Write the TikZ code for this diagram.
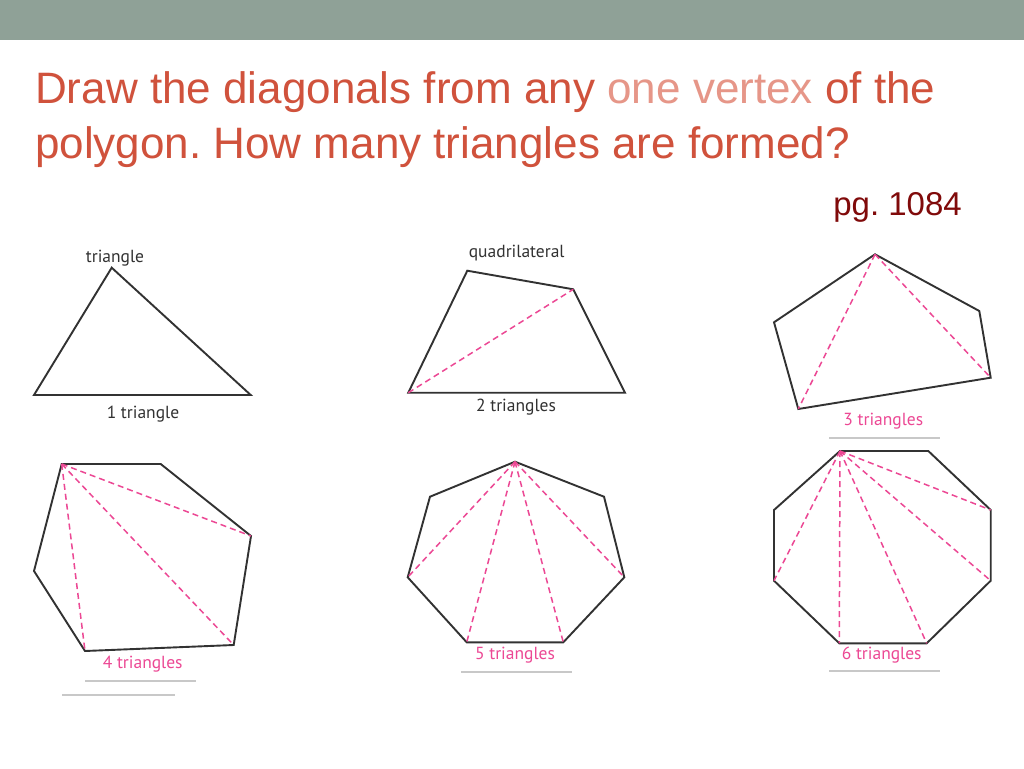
\documentclass[tikz,border=0pt]{standalone}
\usepackage{fontspec}
\setmainfont{Liberation Sans}
\newfontfamily\labelfont{PT Sans}
\frenchspacing
\definecolor{barcol}{RGB}{143,161,151}
\definecolor{titlecol}{RGB}{208,82,60}
\definecolor{lightcol}{RGB}{230,150,136}
\definecolor{pgcol}{RGB}{128,10,10}
\definecolor{pinkcol}{RGB}{236,72,148}
\definecolor{edgecol}{RGB}{50,50,50}
\definecolor{rulecol}{RGB}{200,200,200}
\tikzset{
  poly/.style={draw=edgecol, line width=1.9pt, line join=miter},
  diag/.style={draw=pinkcol, line width=1.5pt, dash pattern=on 6pt off 4pt},
  lbl/.style={font=\labelfont\fontsize{17.5}{17.5}\selectfont, text=edgecol, inner sep=0pt},
  plbl/.style={font=\labelfont\fontsize{17.5}{17.5}\selectfont, text=pinkcol, inner sep=0pt},
  rulel/.style={draw=rulecol, line width=1.8pt},
  ttl/.style={font=\fontsize{44}{44}\selectfont, text=titlecol, inner sep=0pt, anchor=base west}
}
\begin{document}
\begin{tikzpicture}[x=1pt,y=-1pt]
\useasboundingbox (0,0) rectangle (1024,768);
\fill[white] (0,0) rectangle (1024,768);
\fill[barcol] (0,0) rectangle (1024,40);
% title
\node[ttl] (t1) at (35,103.5) {Draw the diagonals from any \textcolor{lightcol}{one vertex} of the};
\node[ttl] (t2) at (35,158.5) {polygon. How many triangles are formed?};
\node[font=\fontsize{33}{33}\selectfont, text=pgcol, inner sep=0pt, anchor=base east] (pg) at (962,215.5) {pg. 1084};
% triangle
\coordinate (a1) at (111.7,267.7);
\coordinate (a2) at (250.7,395);
\coordinate (a3) at (34,395);
\draw[poly] (a1) -- (a2) -- (a3) -- cycle;
\node[lbl] (la) at (115,258.3) {triangle};
\node[lbl] (lb) at (143,414.5) {1 triangle};
% quadrilateral
\coordinate (b1) at (467.3,270.7);
\coordinate (b2) at (573.3,289.3);
\coordinate (b3) at (625,392.7);
\coordinate (b4) at (408.3,392.7);
\draw[poly] (b1) -- (b2) -- (b3) -- (b4) -- cycle;
\draw[diag] (b4) -- (b2);
\node[lbl] (lq) at (516.7,253.5) {quadrilateral};
\node[lbl] (lq2) at (516,407.5) {2 triangles};
% pentagon
\coordinate (c1) at (875,254.3);
\coordinate (c2) at (979.3,311);
\coordinate (c3) at (990.7,377.7);
\coordinate (c4) at (798.3,409);
\coordinate (c5) at (774,322.3);
\draw[poly] (c1) -- (c2) -- (c3) -- (c4) -- (c5) -- cycle;
\draw[diag] (c1) -- (c4);
\draw[diag] (c1) -- (c3);
\node[plbl] (lp) at (883.3,421.5) {3 triangles};
\coordinate (r1a) at (829,438.3);
\coordinate (r1b) at (940,438.3);
\draw[rulel] (r1a) -- (r1b);
% hexagon
\coordinate (d1) at (61.7,464);
\coordinate (d2) at (160.7,464);
\coordinate (d3) at (251,536);
\coordinate (d4) at (233.7,645);
\coordinate (d5) at (85,651);
\coordinate (d6) at (34,571);
\draw[poly] (d1) -- (d2) -- (d3) -- (d4) -- (d5) -- (d6) -- cycle;
\draw[diag] (d1) -- (d3);
\draw[diag] (d1) -- (d4);
\draw[diag] (d1) -- (d5);
\node[plbl] (lh) at (142.7,664) {4 triangles};
\coordinate (r2a) at (85,681);
\coordinate (r2b) at (195.7,681);
\draw[rulel] (r2a) -- (r2b);
\coordinate (r3a) at (62.3,695);
\coordinate (r3b) at (175,695);
\draw[rulel] (r3a) -- (r3b);
% heptagon
\coordinate (e1) at (515,461.7);
\coordinate (e2) at (604,496.7);
\coordinate (e3) at (624.3,577.3);
\coordinate (e4) at (563.3,642.3);
\coordinate (e5) at (466.7,642.3);
\coordinate (e6) at (407.7,577.3);
\coordinate (e7) at (430,496.7);
\draw[poly] (e1) -- (e2) -- (e3) -- (e4) -- (e5) -- (e6) -- (e7) -- cycle;
\draw[diag] (e1) -- (e3);
\draw[diag] (e1) -- (e4);
\draw[diag] (e1) -- (e5);
\draw[diag] (e1) -- (e6);
\node[plbl] (lhe) at (515,655) {5 triangles};
\coordinate (r4a) at (461,671.7);
\coordinate (r4b) at (571.7,671.7);
\draw[rulel] (r4a) -- (r4b);
% octagon
\coordinate (f1) at (840,451);
\coordinate (f2) at (928.3,451);
\coordinate (f3) at (990.7,510);
\coordinate (f4) at (990.7,580.7);
\coordinate (f5) at (926.7,643.3);
\coordinate (f6) at (839.3,643.3);
\coordinate (f7) at (774,580.7);
\coordinate (f8) at (774,510);
\draw[poly] (f1) -- (f2) -- (f3) -- (f4) -- (f5) -- (f6) -- (f7) -- (f8) -- cycle;
\draw[diag] (f1) -- (f3);
\draw[diag] (f1) -- (f4);
\draw[diag] (f1) -- (f5);
\draw[diag] (f1) -- (f6);
\draw[diag] (f1) -- (f7);
\node[plbl] (lo) at (881.7,655) {6 triangles};
\coordinate (r5a) at (829,670.7);
\coordinate (r5b) at (940,670.7);
\draw[rulel] (r5a) -- (r5b);
\end{tikzpicture}
\end{document}
